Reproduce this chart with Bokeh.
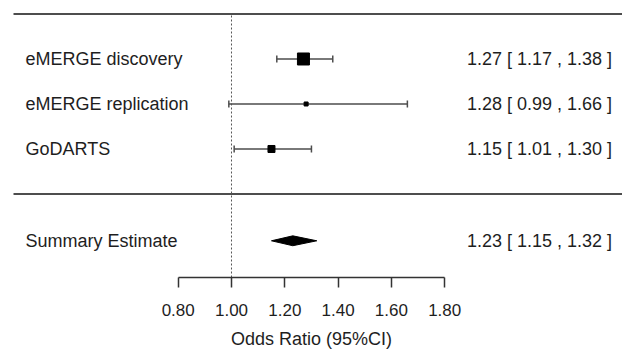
from math import pi
from bokeh.plotting import figure
from bokeh.models import LinearAxis, FixedTicker, PrintfTickFormatter, Range1d
from bokeh.core.properties import value
from bokeh.embed import file_html
from bokeh.resources import INLINE

# ---- data ----
studies = ["eMERGE discovery", "eMERGE replication", "GoDARTS"]
or_est = [1.27, 1.28, 1.15]
ci_low = [1.17, 0.99, 1.01]
ci_high = [1.38, 1.66, 1.30]
box_px = [12, 4, 7]
summary_label = "Summary Estimate"
sum_est = 1.23
sum_low = 1.15
sum_high = 1.32
tick_vals = [0.8, 1.0, 1.2, 1.4, 1.6, 1.8]
axis_title = "Odds Ratio (95%CI)"

# ---- layout ----
rows = [3, 2, 1]
summary_row = -1.04
top_line_y = 4
sep_line_y = 0
x_lo, x_hi = 0.1332, 2.4672
y_lo, y_hi = -1.856, 4.3
label_x = 0.227
value_x = 2.428
line_x0 = 0.182
FONT = value("Liberation Sans")
TXT = "#1e1e1e"
LINE = "#4d4d4d"

p = figure(width=622, height=351, x_range=Range1d(x_lo, x_hi), y_range=Range1d(y_lo, y_hi),
           output_backend="svg", toolbar_location=None,
           x_axis_location=None, y_axis_location=None,
           min_border_left=0, min_border_right=0, min_border_top=0, min_border_bottom=74)
p.grid.visible = False
p.outline_line_color = None
p.background_fill_color = "white"
p.border_fill_color = "white"

# horizontal rules
p.segment(x0=[line_x0, line_x0], y0=[top_line_y, sep_line_y], x1=[x_hi, x_hi], y1=[top_line_y, sep_line_y],
          line_color=LINE, line_width=2)
# reference line at OR = 1
p.segment(x0=[1.0], y0=[y_lo], x1=[1.0], y1=[top_line_y], line_color="#555555", line_width=1, line_dash="2 2")

# CIs
p.segment(x0=ci_low, y0=rows, x1=ci_high, y1=rows, line_color=LINE, line_width=1.5)
p.scatter(x=ci_low + ci_high, y=rows + rows, marker="dash", size=7, angle=pi / 2,
          line_color=LINE, line_width=1.5)
# point estimates
p.scatter(x=or_est, y=rows, marker="square", size=box_px, fill_color="black", line_color="black")

# summary diamond
h = 0.11
p.patch(x=[sum_low, sum_est, sum_high, sum_est],
        y=[summary_row, summary_row + h, summary_row, summary_row - h],
        fill_color="black", line_color="black")

# labels
labels = studies + [summary_label]
label_rows = rows + [summary_row]
p.text(x=[label_x] * len(labels), y=label_rows, text=labels, text_font=FONT, text_font_size="18px",
       text_color=TXT, text_baseline="middle", text_align="left", y_offset=0)

vals = [f"{e:.2f} [ {l:.2f} , {u:.2f} ]" for e, l, u in zip(or_est, ci_low, ci_high)]
vals.append(f"{sum_est:.2f} [ {sum_low:.2f} , {sum_high:.2f} ]")
p.text(x=[value_x] * len(vals), y=label_rows, text=vals, text_font=FONT, text_font_size="18px",
       text_color=TXT, text_baseline="middle", text_align="right", y_offset=0)

# axis
ax = LinearAxis(ticker=FixedTicker(ticks=tick_vals), formatter=PrintfTickFormatter(format="%.2f"),
                bounds=(tick_vals[0], tick_vals[-1]), axis_label=axis_title)
ax.major_tick_in = 0
ax.major_tick_out = 10
ax.minor_tick_in = 0
ax.minor_tick_out = 0
ax.axis_line_color = "#333333"
ax.axis_line_width = 1.5
ax.major_tick_line_color = "#333333"
ax.major_tick_line_width = 1.5
ax.major_label_text_font = "Liberation Sans"
ax.major_label_text_font_size = "17px"
ax.major_label_text_color = TXT
ax.major_label_standoff = 16
ax.axis_label_text_font = "Liberation Sans"
ax.axis_label_text_font_size = "18px"
ax.axis_label_text_font_style = "normal"
ax.axis_label_text_color = TXT
ax.axis_label_standoff = 10
p.add_layout(ax, "below")

open("out.html", "w").write(file_html(p, INLINE))
